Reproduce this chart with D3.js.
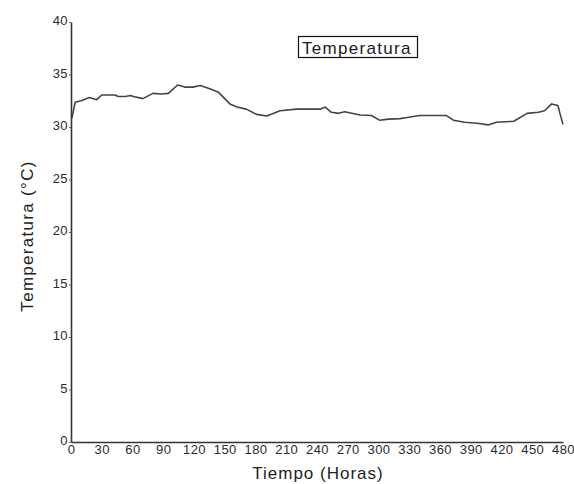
<!DOCTYPE html>
<html>
<head>
<meta charset="utf-8">
<script src="https://cdn.jsdelivr.net/npm/d3@7"></script>
<style>
  html, body { margin: 0; padding: 0; background: #fff; }
  svg { display: block; font-family: "Liberation Sans", Arial, sans-serif; }
</style>
</head>
<body>
<svg id="chart" width="574" height="484"></svg>
<script>
// Hourly temperature record (hours, °C)
const hours = [0, 1, 4, 10, 18, 25, 30, 43, 46, 53, 58, 61, 70, 80, 88, 95, 104, 111, 119, 126, 134, 144, 155, 162, 171, 181, 191, 204, 220, 243, 248, 254, 261, 267, 282, 293, 301, 310, 321, 328, 340, 366, 373, 384, 396, 407, 415, 432, 445, 456, 462, 469, 475, 477, 480];
const temps = [31.1, 30.9, 32.35, 32.5, 32.8, 32.6, 33.05, 33.05, 32.9, 32.9, 33.0, 32.9, 32.7, 33.2, 33.15, 33.2, 34.0, 33.8, 33.8, 33.95, 33.7, 33.3, 32.2, 31.9, 31.7, 31.2, 31.05, 31.55, 31.7, 31.7, 31.9, 31.4, 31.3, 31.45, 31.15, 31.1, 30.65, 30.75, 30.8, 30.9, 31.1, 31.1, 30.65, 30.45, 30.35, 30.2, 30.45, 30.55, 31.3, 31.4, 31.55, 32.2, 32.05, 31.3, 30.25];
const xTicks = [0, 30, 60, 90, 120, 150, 180, 210, 240, 270, 300, 330, 360, 390, 420, 450, 480];
const yTicks = [0, 5, 10, 15, 20, 25, 30, 35, 40];
const seriesName = "Temperatura";
const xTitle = "Tiempo (Horas)";
const yTitle = "Temperatura (°C)";

const svg = d3.select("#chart");
const plotLeft = 71, plotRight = 563, plotTop = 22, plotBottom = 442;

const x = d3.scaleLinear().domain([0, 480]).range([plotLeft, plotRight]);
const y = d3.scaleLinear().domain([0, 40]).range([plotBottom, plotTop]);

const axisColor = "#333";
const tickFont = "Liberation Sans, Arial, sans-serif";

// Y axis
const gy = svg.append("g")
  .attr("transform", `translate(${plotLeft},0)`)
  .call(d3.axisLeft(y).tickValues(yTicks).tickSize(2).tickPadding(1).tickSizeOuter(0));
gy.select(".domain").attr("stroke", axisColor).attr("stroke-width", 1.6);
gy.selectAll(".tick line").attr("stroke", "#3a6fb0");
gy.selectAll(".tick text").attr("font-size", 13).attr("fill", "#2a2a2a")
  .attr("font-family", tickFont).attr("letter-spacing", 0.4)
  .attr("dy", "0.2em");

// X axis
const gx = svg.append("g")
  .attr("transform", `translate(0,${plotBottom})`)
  .call(d3.axisBottom(x).tickValues(xTicks).tickSize(0).tickPadding(3).tickSizeOuter(0));
gx.select(".domain").attr("stroke", axisColor).attr("stroke-width", 1.6);
gx.selectAll(".tick text").attr("font-size", 13).attr("fill", "#2a2a2a")
  .attr("font-family", tickFont).attr("letter-spacing", 0.5);

// Temperature line
const data = hours.map((h, i) => ({ h, t: temps[i] }));
svg.append("path")
  .datum(data)
  .attr("fill", "none")
  .attr("stroke", "#444")
  .attr("stroke-width", 1.6)
  .attr("stroke-linejoin", "round")
  .attr("d", d3.line().x(d => x(d.h)).y(d => y(d.t)));

// Legend box
const lg = svg.append("g");
lg.append("rect")
  .attr("x", 298.5).attr("y", 36.5)
  .attr("width", 119).attr("height", 21)
  .attr("fill", "#fff").attr("stroke", "#111").attr("stroke-width", 1.2);
lg.append("text")
  .attr("x", 302).attr("y", 54)
  .attr("font-size", 17).attr("letter-spacing", 1.3).attr("fill", "#1a1a2a")
  .text(seriesName);

// Axis titles
svg.append("text")
  .attr("x", 318).attr("y", 479)
  .attr("text-anchor", "middle")
  .attr("font-size", 17).attr("letter-spacing", 1).attr("fill", "#222")
  .text(xTitle);

svg.append("text")
  .attr("transform", "translate(33,236) rotate(-90)")
  .attr("text-anchor", "middle")
  .attr("font-size", 17).attr("letter-spacing", 1.3).attr("fill", "#222")
  .text(yTitle);
</script>
</body>
</html>
